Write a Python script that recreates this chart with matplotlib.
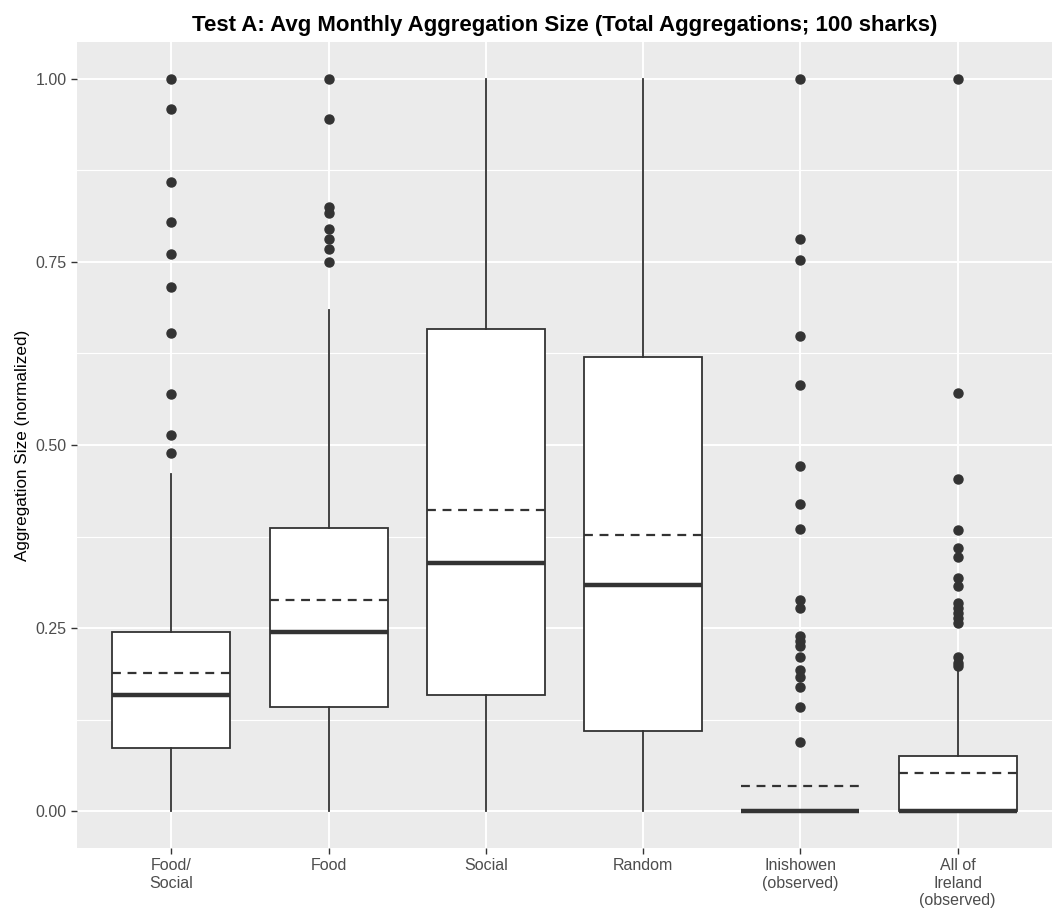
import matplotlib.pyplot as plt

plt.rcParams['font.family'] = ['Liberation Sans', 'DejaVu Sans']

# categories and box statistics
categories = ['Food/\nSocial', 'Food', 'Social', 'Random',
              'Inishowen\n(observed)', 'All of\nIreland\n(observed)']
q1 = [0.087, 0.143, 0.159, 0.110, 0.0, 0.0]
medians = [0.159, 0.245, 0.339, 0.309, 0.0, 0.0]
q3 = [0.245, 0.387, 0.658, 0.620, 0.0, 0.075]
means = [0.189, 0.289, 0.411, 0.377, 0.035, 0.053]
whisk_lo = [0.0, 0.0, 0.0, 0.0, 0.0, 0.0]
whisk_hi = [0.461, 0.684, 1.0, 1.0, 0.0, 0.192]

outliers_food_social = [1.0, 0.959, 0.859, 0.804, 0.760, 0.715, 0.653, 0.569, 0.513, 0.489]
outliers_food = [1.0, 0.945, 0.825, 0.817, 0.795, 0.781, 0.768, 0.750]
outliers_social = []
outliers_random = []
outliers_inishowen = [1.0, 0.781, 0.752, 0.649, 0.582, 0.471, 0.420, 0.385, 0.289, 0.278,
                      0.239, 0.232, 0.225, 0.210, 0.193, 0.184, 0.170, 0.143, 0.095]
outliers_ireland = [1.0, 0.571, 0.453, 0.384, 0.359, 0.347, 0.319, 0.308, 0.284, 0.277,
                    0.271, 0.264, 0.257, 0.210, 0.203, 0.198]
outliers = [outliers_food_social, outliers_food, outliers_social, outliers_random,
            outliers_inishowen, outliers_ireland]

stats = []
for i in range(len(categories)):
    stats.append({'q1': q1[i], 'med': medians[i], 'q3': q3[i], 'mean': means[i],
                  'whislo': whisk_lo[i], 'whishi': whisk_hi[i], 'fliers': outliers[i]})

fig = plt.figure(figsize=(10.53, 9.15), dpi=100)
ax = fig.add_axes([0.0731, 0.0732, 0.926, 0.881])
ax.set_facecolor('#EBEBEB')

dark = '#333333'
positions = list(range(1, len(categories) + 1))
ax.bxp(stats, positions=positions, widths=0.75, patch_artist=True,
       showcaps=False, showmeans=True, meanline=True,
       boxprops=dict(facecolor='white', edgecolor=dark, linewidth=1.3),
       whiskerprops=dict(color=dark, linewidth=1.3),
       medianprops=dict(color=dark, linewidth=3.2),
       meanprops=dict(color=dark, linestyle=(0, (4, 3)), linewidth=1.6),
       flierprops=dict(marker='o', markerfacecolor=dark, markeredgecolor=dark,
                       markersize=6.5))

ax.set_xlim(0.4, 6.6)
ax.set_ylim(-0.05, 1.05)
ax.set_yticks([0, 0.25, 0.5, 0.75, 1.0])
ax.set_yticklabels(['0.00', '0.25', '0.50', '0.75', '1.00'])
ax.set_yticks([0.125, 0.375, 0.625, 0.875], minor=True)
ax.set_xticks(positions)
ax.set_xticklabels(categories)

ax.grid(True, which='major', color='white', linewidth=1.4)
ax.grid(True, which='minor', axis='y', color='white', linewidth=0.8)
ax.set_axisbelow(True)
for s in ax.spines.values():
    s.set_visible(False)
ax.tick_params(axis='both', which='major', colors='#333333', length=4, width=1,
               labelsize=11.5, labelcolor='#4D4D4D')
ax.tick_params(axis='y', which='minor', length=0)

ax.set_ylabel('Aggregation Size (normalized)', fontsize=12.3, color='black')
ax.set_title('Test A: Avg Monthly Aggregation Size (Total Aggregations; 100 sharks)',
             fontsize=16, fontweight='bold', pad=8)

fig.savefig('out.png', dpi=100)
